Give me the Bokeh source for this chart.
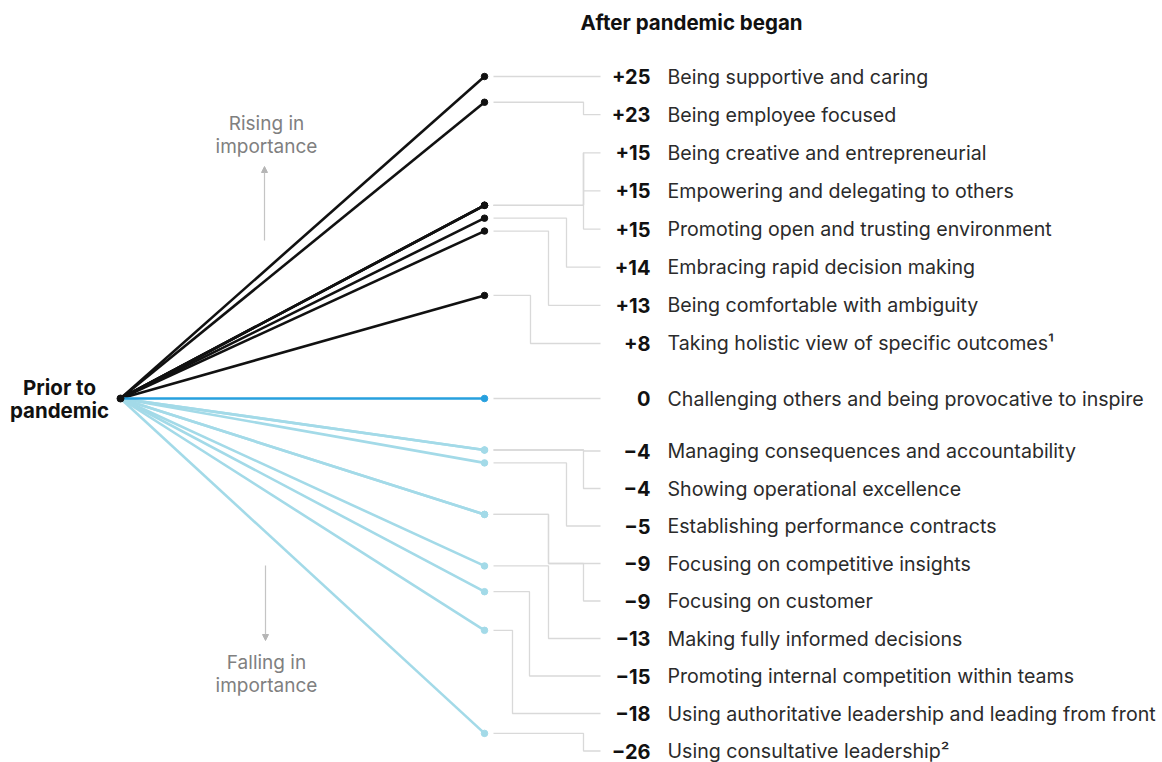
from bokeh.plotting import figure
from bokeh.models import Range1d, ColumnDataSource, Arrow, NormalHead
from bokeh.core.properties import value
from bokeh.embed import file_html
from bokeh.resources import INLINE

# ---------------- data ----------------
labels = [
    "Being supportive and caring",
    "Being employee focused",
    "Being creative and entrepreneurial",
    "Empowering and delegating to others",
    "Promoting open and trusting environment",
    "Embracing rapid decision making",
    "Being comfortable with ambiguity",
    "Taking holistic view of specific outcomes\u00b9",
    "Challenging others and being provocative to inspire",
    "Managing consequences and accountability",
    "Showing operational excellence",
    "Establishing performance contracts",
    "Focusing on competitive insights",
    "Focusing on customer",
    "Making fully informed decisions",
    "Promoting internal competition within teams",
    "Using authoritative leadership and leading from front",
    "Using consultative leadership\u00b2",
]
changes = [25, 23, 15, 15, 15, 14, 13, 8, 0, -4, -4, -5, -9, -9, -13, -15, -18, -26]
stages = ["Prior to pandemic", "After pandemic began"]

# ---------------- layout (pixels) ----------------
W, H = 1162, 762
ZERO_PX = 398.0
PX_PER_UNIT = 12.88
Y_TOP = ZERO_PX / PX_PER_UNIT
Y_BOT = -(H - ZERO_PX) / PX_PER_UNIT

def px2v(py):
    return Y_TOP - py * (Y_TOP - Y_BOT) / H

X_PRIOR, X_AFTER = 120, 484
CONN_START, FORK_X, CONN_END = 493, 583, 600
NUM_RIGHT, NAME_LEFT = 650, 667
# elbow x of the first bend for each item
elbows = [583, 583, 583, 583, 583, 566, 548, 530, 583,
          583, 583, 566, 548, 548, 548, 529, 512, 583]
# label row positions (px)
rows_px = []
for i in range(8):
    rows_px.append(76 + 38.14 * i)
rows_px.append(398)
for i in range(9):
    rows_px.append(450.5 + 37.5 * i)

FONT = "Inter"
POS_COL = "#111111"
ZERO_COL = "#27a0de"
NEG_COL = "#a3dae8"
CONN_COL = "#d9d9d9"
GREY_TXT = "#808080"
NAME_COL = "#2b2b2b"

def col(v):
    return POS_COL if v > 0 else (ZERO_COL if v == 0 else NEG_COL)

def fmt(v):
    if v > 0:
        return "+%d" % v
    if v < 0:
        return "\u2212%d" % abs(v)
    return "0"

p = figure(width=W, height=H, x_range=Range1d(0, W), y_range=Range1d(Y_BOT, Y_TOP),
           output_backend="svg", toolbar_location=None, min_border=0,
           background_fill_color="white", border_fill_color="white")
p.axis.visible = False
p.grid.visible = False
p.outline_line_color = None

# connectors
first_row = {}
for v, r in zip(changes, rows_px):
    first_row.setdefault(v, r)
cxs, cys = [], []
for v, r, e in zip(changes, rows_px, elbows):
    ymid = px2v(first_row[v])
    yr = px2v(r)
    cxs.append([CONN_START, e, e, FORK_X, FORK_X, CONN_END])
    cys.append([v, v, ymid, ymid, yr, yr])
p.multi_line(cxs, cys, line_color=CONN_COL, line_width=1.3)

# radial lines: negatives, then positives, then zero on top
order = sorted(range(len(changes)), key=lambda i: (0 if changes[i] < 0 else (1 if changes[i] > 0 else 2)))
lx = [[X_PRIOR, X_AFTER] for i in order]
ly = [[0, changes[i]] for i in order]
lc = [col(changes[i]) for i in order]
p.multi_line(xs=lx, ys=ly, line_color=lc, line_width=2.6)

src = ColumnDataSource(dict(x=[X_AFTER] * len(changes), y=changes,
                            c=[col(v) for v in changes]))
p.scatter("x", "y", source=src, size=6.5, fill_color="c", line_color="c")
p.scatter([X_PRIOR], [0], size=7, fill_color=POS_COL, line_color=POS_COL)

# value & name labels
tsrc = ColumnDataSource(dict(y=[px2v(r) for r in rows_px],
                             num=[fmt(v) for v in changes], name=labels))
p.text(x=NUM_RIGHT, y="y", text="num", source=tsrc, text_align="right",
       text_baseline="middle", text_font=value(FONT), text_font_style="bold",
       text_font_size="20px", text_color="#111111")
p.text(x=NAME_LEFT, y="y", text="name", source=tsrc, text_align="left",
       text_baseline="middle", text_font=value(FONT),
       text_font_size="19.6px", text_color=NAME_COL)

# header and stage labels
p.text(x=[580], y=[px2v(22)], text=[stages[1]], text_align="left", text_baseline="middle",
       text_font=value(FONT), text_font_style="bold", text_font_size="20.5px",
       text_color="#111111")
prior_words = stages[0].split(" ")
p.text(x=[59, 59], y=[px2v(387), px2v(410)],
       text=[" ".join(prior_words[:2]), prior_words[2]],
       text_align="center", text_baseline="middle", text_font=value(FONT),
       text_font_style="bold", text_font_size="20.5px", text_color="#111111")

# rising / falling notes
p.text(x=[266, 266], y=[px2v(123), px2v(146)], text=["Rising in", "importance"],
       text_align="center", text_baseline="middle", text_font=value(FONT),
       text_font_size="19px", text_color=GREY_TXT)
p.text(x=[266, 266], y=[px2v(662), px2v(685)], text=["Falling in", "importance"],
       text_align="center", text_baseline="middle", text_font=value(FONT),
       text_font_size="19px", text_color=GREY_TXT)
p.add_layout(Arrow(end=NormalHead(size=6, fill_color="#b5b5b5", line_color="#b5b5b5"),
                   x_start=264, y_start=px2v(240), x_end=264, y_end=px2v(166),
                   line_color="#c4c4c4", line_width=1.2))
p.add_layout(Arrow(end=NormalHead(size=6, fill_color="#b5b5b5", line_color="#b5b5b5"),
                   x_start=265, y_start=px2v(565), x_end=265, y_end=px2v(640),
                   line_color="#c4c4c4", line_width=1.2))

open("out.html", "w").write(file_html(p, INLINE))
